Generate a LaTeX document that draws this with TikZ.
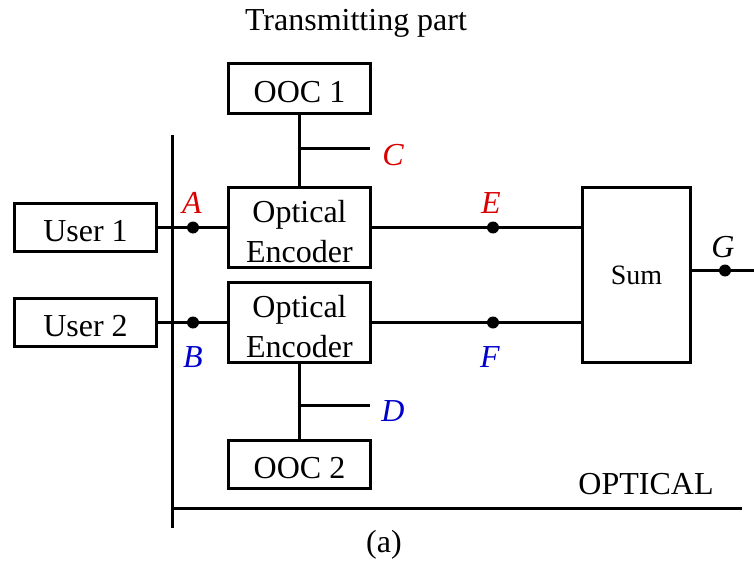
\documentclass[tikz,border=0pt]{standalone}
\usepackage{fontspec}
\setmainfont{Liberation Serif}
\newcommand{\dn}[1]{\raisebox{-3pt}[\height][\depth]{#1}}
\begin{document}
\begin{tikzpicture}[x=0.75pt,y=-0.75pt,
  blk/.style={draw,line width=2.25pt,inner sep=0pt,align=center,font=\fontsize{24}{30}\selectfont},
  wire/.style={line width=2.25pt},
  pt/.style={circle,fill=black,inner sep=0pt,minimum size=9pt},
  lab/.style={font=\fontsize{24}{28}\selectfont\itshape},
  txt/.style={font=\fontsize{24}{28}\selectfont}]
\useasboundingbox (0,0) rectangle (754,567);
% title
\node[txt] (title) at (356,23) {Transmitting part};
% blocks
\node[blk,minimum width=106.5pt,minimum height=37.5pt] (ooc1) at (299.5,88.5) {\dn{OOC 1}};
\node[blk,minimum width=106.5pt,minimum height=60pt] (enc1) at (299.5,227.5) {\dn{Optical}\\\dn{Encoder}};
\node[blk,minimum width=106.5pt,minimum height=36pt] (u1) at (85.5,227.5) {\dn{User 1}};
\node[blk,minimum width=106.5pt,minimum height=60pt] (enc2) at (299.5,322.5) {\dn{Optical}\\\dn{Encoder}};
\node[blk,minimum width=106.5pt,minimum height=36pt] (u2) at (85.5,322.5) {\dn{User 2}};
\node[blk,minimum width=106.5pt,minimum height=36pt] (ooc2) at (299.5,464.5) {\dn{OOC 2}};
\node[blk,minimum width=81pt,minimum height=131.25pt,font=\fontsize{21}{25}\selectfont] (sum) at (636.5,275) {Sum};
% axes
\coordinate (axtop) at (172.5,135);
\coordinate (axbot) at (172.5,528);
\coordinate (axcorner) at (172.5,508.5);
\coordinate (axright) at (742,508.5);
\draw[wire] (axtop) -- (axbot);
\draw[wire] (axcorner) -- (axright);
\node[txt] (optical) at (646,484) {OPTICAL};
\node[txt] (cap) at (384,545) {(a)};
% OOC connections
\draw[wire] (ooc1.south) -- (enc1.north);
\coordinate (cbr) at (299.5,148.5);
\coordinate (cend) at (370,148.5);
\draw[wire] (cbr) -- (cend);
\node[lab,text=red!85!black] (C) at (393,155) {C};
\draw[wire] (enc2.south) -- (ooc2.north);
\coordinate (dbr) at (299.5,405.5);
\coordinate (dend) at (370,405.5);
\draw[wire] (dbr) -- (dend);
\node[lab,text=blue!80!black] (D) at (393,411) {D};
% user to encoder
\draw[wire] (u1.east) -- (enc1.west);
\node[pt] (A) at (193,227.5) {};
\node[lab,text=red!85!black] (Al) at (192,203) {A};
\draw[wire] (u2.east) -- (enc2.west);
\node[pt] (B) at (193,322.5) {};
\node[lab,text=blue!80!black] (Bl) at (193,357) {B};
% encoder to sum
\draw[wire] (enc1.east) -- (enc1.east -| sum.west);
\node[pt] (E) at (493,227.5) {};
\node[lab,text=red!85!black] (El) at (491,203) {E};
\draw[wire] (enc2.east) -- (enc2.east -| sum.west);
\node[pt] (F) at (493,322.5) {};
\node[lab,text=blue!80!black] (Fl) at (490,357) {F};
% sum output
\coordinate (gend) at (754,270.5);
\draw[wire] (sum.east |- gend) -- (gend);
\node[pt] (G) at (725,270.5) {};
\node[lab] (Gl) at (723,247) {G};
\end{tikzpicture}
\end{document}
